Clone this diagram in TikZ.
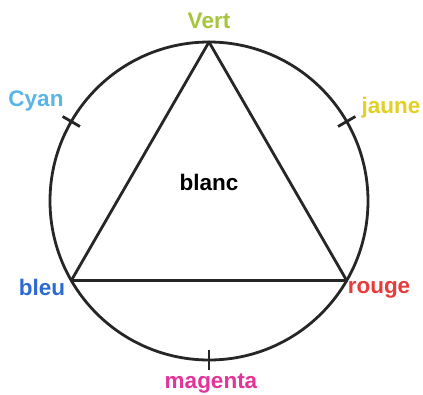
\documentclass[tikz,border=0pt]{standalone}
\usepackage{fontspec}
\setmainfont{Liberation Sans}
\usepackage{xcolor}
\usetikzlibrary{positioning}
\definecolor{vertc}{HTML}{A8C43C}
\definecolor{cyanc}{HTML}{5AB4E6}
\definecolor{jaunec}{HTML}{E2D024}
\definecolor{bleuc}{HTML}{2E6AD2}
\definecolor{rougec}{HTML}{E63C3C}
\definecolor{magentac}{HTML}{E2349A}

\begin{document}
\begin{tikzpicture}[
  x=1pt, y=1pt,
  rim/.style={line width=2.8pt, black!85},
  side/.style={line width=2.8pt, black!85, line join=round},
  tickmark/.style={line width=2.8pt, black!85},
  lbl/.style={anchor=base, inner sep=0pt, font=\fontsize{22.5}{24}\selectfont\bfseries},
]
  \useasboundingbox (0,0) rectangle (423,-394);
  \coordinate (c) at (209,-201);
  \draw[rim] (c) circle (159);
  \coordinate (vert) at ([shift={(90:159)}]c);
  \coordinate (bleu) at ([shift={(210:159)}]c);
  \coordinate (rouge) at ([shift={(330:159)}]c);
  \draw[side] (vert) -- (rouge) -- (bleu) -- cycle;
  \foreach \a in {30,150,270}
    \draw[tickmark] ([shift={(\a:149)}]c) -- ([shift={(\a:169)}]c);
  \node[lbl, text=vertc] (lvert) at (209,-28) {Vert};
  \node[lbl, text=cyanc] (lcyan) at (36,-106) {Cyan};
  \node[lbl, text=jaunec] (ljaune) at (391,-113) {jaune};
  \node[lbl, text=bleuc] (lbleu) at (42,-295) {bleu};
  \node[lbl, text=rougec] (lrouge) at (379,-293) {rouge};
  \node[lbl, text=magentac] (lmagenta) at (211,-388) {magenta};
  \node[lbl, text=black] (lblanc) at (209,-190) {blanc};
\end{tikzpicture}
\end{document}
